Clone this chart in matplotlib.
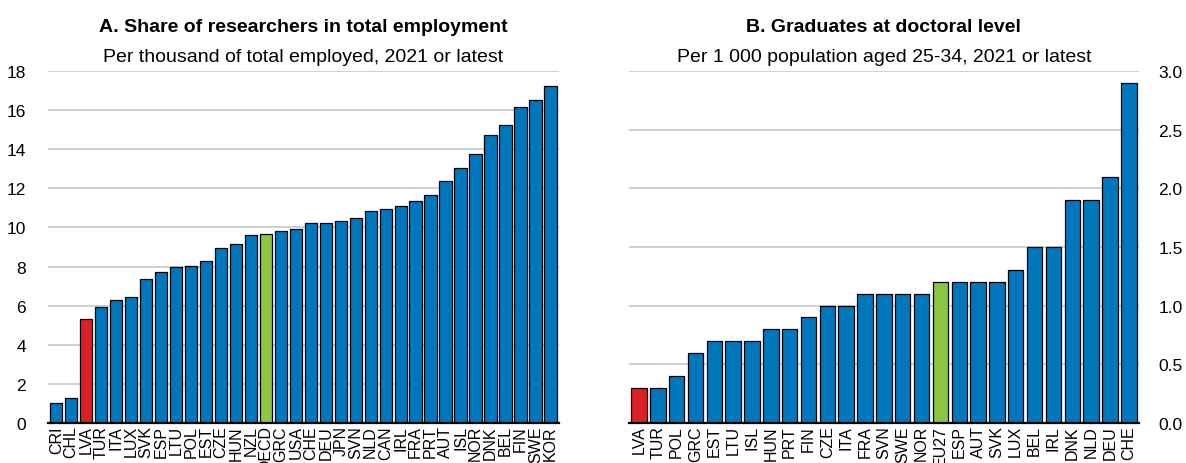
import numpy as np
import matplotlib.pyplot as plt

plt.rcParams['font.family'] = ['Liberation Sans', 'DejaVu Sans']

# Panel A data
a_countries = ["CRI", "CHL", "LVA", "TUR", "ITA", "LUX", "SVK", "ESP", "LTU", "POL",
               "EST", "CZE", "HUN", "NZL", "OECD", "GRC", "USA", "CHE", "DEU", "JPN",
               "SVN", "NLD", "CAN", "IRL", "FRA", "PRT", "AUT", "ISL", "NOR", "DNK",
               "BEL", "FIN", "SWE", "KOR"]
a_values = [1.05, 1.3, 5.3, 5.95, 6.3, 6.45, 7.35, 7.7, 8.0, 8.05,
            8.3, 8.95, 9.15, 9.6, 9.65, 9.83, 9.93, 10.23, 10.24, 10.31,
            10.48, 10.85, 10.96, 11.09, 11.37, 11.64, 12.37, 13.06, 13.76, 14.73,
            15.25, 16.14, 16.53, 17.25]

# Panel B data
b_countries = ["LVA", "TUR", "POL", "GRC", "EST", "LTU", "ISL", "HUN", "PRT", "FIN",
               "CZE", "ITA", "FRA", "SVN", "SWE", "NOR", "EU27", "ESP", "AUT", "SVK",
               "LUX", "BEL", "IRL", "DNK", "NLD", "DEU", "CHE"]
b_values = [0.3, 0.3, 0.4, 0.6, 0.7, 0.7, 0.7, 0.8, 0.8, 0.9,
            1.0, 1.0, 1.1, 1.1, 1.1, 1.1, 1.2, 1.2, 1.2, 1.2,
            1.3, 1.5, 1.5, 1.9, 1.9, 2.1, 2.9]

BLUE = "#0077BD"
RED = "#DA2128"
GREEN = "#8CC641"


def colours(names):
    out = []
    for n in names:
        if n == "LVA":
            out.append(RED)
        elif n in ("OECD", "EU27"):
            out.append(GREEN)
        else:
            out.append(BLUE)
    return out


def style(ax, names, values, ymax, yticks, title, subtitle, right=False):
    x = np.arange(len(names))
    ax.bar(x, values, width=0.82, color=colours(names), edgecolor="black",
           linewidth=0.9, zorder=3)
    ax.set_xlim(-0.55, len(names) - 0.45)
    ax.set_ylim(0, ymax)
    ax.set_yticks(yticks)
    ax.yaxis.grid(True, color="#d0d0d0", linewidth=1.4, zorder=0)
    ax.set_xticks(x)
    ax.set_xticklabels(names, rotation=90, fontsize=11.5)
    ax.tick_params(axis="x", length=0, pad=1.5)
    ax.tick_params(axis="y", length=0, labelsize=12.5, pad=16)
    for s in ["top", "left", "right"]:
        ax.spines[s].set_visible(False)
    ax.spines["bottom"].set_linewidth(1.6)
    ax.spines["bottom"].set_zorder(4)
    if right:
        ax.yaxis.tick_right()
    ax.text(0.5, 1.114, title, transform=ax.transAxes, ha="center",
            va="baseline", fontsize=14, fontweight="bold")
    ax.text(0.5, 1.028, subtitle, transform=ax.transAxes, ha="center",
            va="baseline", fontsize=14)


fig = plt.figure(figsize=(11.86, 4.64), dpi=100)
axA = fig.add_axes([0.0405, 0.086, 0.4305, 0.759])
axB = fig.add_axes([0.530, 0.086, 0.4305, 0.759])

style(axA, a_countries, a_values, 18, np.arange(0, 19, 2),
      "A. Share of researchers in total employment",
      "Per thousand of total employed, 2021 or latest")
style(axB, b_countries, b_values, 3.0, np.arange(0, 3.01, 0.5),
      "B. Graduates at doctoral level",
      "Per 1 000 population aged 25-34, 2021 or latest", right=True)
axB.set_yticklabels([f"{v:.1f}" for v in np.arange(0, 3.01, 0.5)])
axB.tick_params(axis="y", pad=14)

fig.savefig("out.png", dpi=100)
